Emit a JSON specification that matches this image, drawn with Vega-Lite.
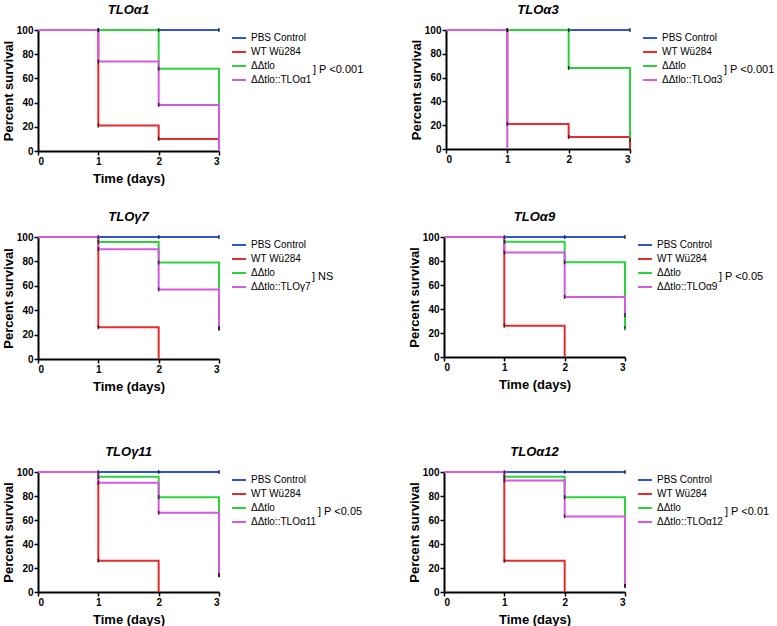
{
  "$schema": "https://vega.github.io/schema/vega-lite/v6.json",
  "padding": {"left": 2, "top": 4, "right": 0, "bottom": 0},
  "background": "white",
  "config": {
    "font": "Liberation Sans",
    "view": {"stroke": null},
    "axis": {"domainColor": "black", "domainWidth": 2, "tickColor": "black", "tickWidth": 1.5, "tickSize": 4, "labelFontWeight": "bold", "labelFontSize": 10, "labelColor": "black", "titleFontSize": 13, "titleFontWeight": "bold", "titleColor": "black", "grid": false, "labelPadding": 1, "labelOverlap": false},
    "axisX": {"tickCount": 4, "titlePadding": 6},
    "axisY": {"tickCount": 6, "titlePadding": 1},
    "title": {"fontSize": 13, "fontStyle": "italic", "fontWeight": "bold", "color": "black", "frame": "group", "offset": 8},
    "legend": {"orient": "right", "offset": 8, "padding": 0, "symbolType": "stroke", "symbolSize": 196, "symbolStrokeWidth": 2, "labelFontSize": 10, "labelColor": "black", "labelOffset": 4, "rowPadding": 1, "titleOrient": "right", "titleAnchor": "end", "titleFontSize": 11, "titleLineHeight": 10, "titleFontWeight": "normal", "titleColor": "black", "titlePadding": 2, "titleLimit": 200}
  },
  "datasets": {
    "km": [
      {"panel": "p1", "group": "PBS Control", "time": 0, "survival": 100},
      {"panel": "p1", "group": "PBS Control", "time": 1, "survival": 100},
      {"panel": "p1", "group": "PBS Control", "time": 2, "survival": 100},
      {"panel": "p1", "group": "PBS Control", "time": 3, "survival": 100},
      {"panel": "p1", "group": "WT Wü284", "time": 0, "survival": 100},
      {"panel": "p1", "group": "WT Wü284", "time": 1, "survival": 21},
      {"panel": "p1", "group": "WT Wü284", "time": 2, "survival": 10},
      {"panel": "p1", "group": "WT Wü284", "time": 3, "survival": 0},
      {"panel": "p1", "group": "ΔΔtlo", "time": 0, "survival": 100},
      {"panel": "p1", "group": "ΔΔtlo", "time": 1, "survival": 100},
      {"panel": "p1", "group": "ΔΔtlo", "time": 2, "survival": 68},
      {"panel": "p1", "group": "ΔΔtlo", "time": 3, "survival": 0},
      {"panel": "p1", "group": "ΔΔtlo::TLOα1", "time": 0, "survival": 100},
      {"panel": "p1", "group": "ΔΔtlo::TLOα1", "time": 1, "survival": 74},
      {"panel": "p1", "group": "ΔΔtlo::TLOα1", "time": 2, "survival": 38},
      {"panel": "p1", "group": "ΔΔtlo::TLOα1", "time": 3, "survival": 0},

      {"panel": "p2", "group": "PBS Control", "time": 0, "survival": 100},
      {"panel": "p2", "group": "PBS Control", "time": 1, "survival": 100},
      {"panel": "p2", "group": "PBS Control", "time": 2, "survival": 100},
      {"panel": "p2", "group": "PBS Control", "time": 3, "survival": 100},
      {"panel": "p2", "group": "WT Wü284", "time": 0, "survival": 100},
      {"panel": "p2", "group": "WT Wü284", "time": 1, "survival": 21},
      {"panel": "p2", "group": "WT Wü284", "time": 2, "survival": 10},
      {"panel": "p2", "group": "WT Wü284", "time": 3, "survival": 0},
      {"panel": "p2", "group": "ΔΔtlo", "time": 0, "survival": 100},
      {"panel": "p2", "group": "ΔΔtlo", "time": 1, "survival": 100},
      {"panel": "p2", "group": "ΔΔtlo", "time": 2, "survival": 68},
      {"panel": "p2", "group": "ΔΔtlo", "time": 3, "survival": 8},
      {"panel": "p2", "group": "ΔΔtlo::TLOα3", "time": 0, "survival": 100},
      {"panel": "p2", "group": "ΔΔtlo::TLOα3", "time": 1, "survival": 0},

      {"panel": "p3", "group": "PBS Control", "time": 0, "survival": 100},
      {"panel": "p3", "group": "PBS Control", "time": 1, "survival": 100},
      {"panel": "p3", "group": "PBS Control", "time": 2, "survival": 100},
      {"panel": "p3", "group": "PBS Control", "time": 3, "survival": 100},
      {"panel": "p3", "group": "WT Wü284", "time": 0, "survival": 100},
      {"panel": "p3", "group": "WT Wü284", "time": 1, "survival": 26},
      {"panel": "p3", "group": "WT Wü284", "time": 2, "survival": 0},
      {"panel": "p3", "group": "ΔΔtlo", "time": 0, "survival": 100},
      {"panel": "p3", "group": "ΔΔtlo", "time": 1, "survival": 96},
      {"panel": "p3", "group": "ΔΔtlo", "time": 2, "survival": 79},
      {"panel": "p3", "group": "ΔΔtlo", "time": 3, "survival": 25},
      {"panel": "p3", "group": "ΔΔtlo::TLOγ7", "time": 0, "survival": 100},
      {"panel": "p3", "group": "ΔΔtlo::TLOγ7", "time": 1, "survival": 90},
      {"panel": "p3", "group": "ΔΔtlo::TLOγ7", "time": 2, "survival": 57},
      {"panel": "p3", "group": "ΔΔtlo::TLOγ7", "time": 3, "survival": 25},

      {"panel": "p4", "group": "PBS Control", "time": 0, "survival": 100},
      {"panel": "p4", "group": "PBS Control", "time": 1, "survival": 100},
      {"panel": "p4", "group": "PBS Control", "time": 2, "survival": 100},
      {"panel": "p4", "group": "PBS Control", "time": 3, "survival": 100},
      {"panel": "p4", "group": "WT Wü284", "time": 0, "survival": 100},
      {"panel": "p4", "group": "WT Wü284", "time": 1, "survival": 26},
      {"panel": "p4", "group": "WT Wü284", "time": 2, "survival": 0},
      {"panel": "p4", "group": "ΔΔtlo", "time": 0, "survival": 100},
      {"panel": "p4", "group": "ΔΔtlo", "time": 1, "survival": 96},
      {"panel": "p4", "group": "ΔΔtlo", "time": 2, "survival": 79},
      {"panel": "p4", "group": "ΔΔtlo", "time": 3, "survival": 24},
      {"panel": "p4", "group": "ΔΔtlo::TLOα9", "time": 0, "survival": 100},
      {"panel": "p4", "group": "ΔΔtlo::TLOα9", "time": 1, "survival": 87},
      {"panel": "p4", "group": "ΔΔtlo::TLOα9", "time": 2, "survival": 50},
      {"panel": "p4", "group": "ΔΔtlo::TLOα9", "time": 3, "survival": 35},

      {"panel": "p5", "group": "PBS Control", "time": 0, "survival": 100},
      {"panel": "p5", "group": "PBS Control", "time": 1, "survival": 100},
      {"panel": "p5", "group": "PBS Control", "time": 2, "survival": 100},
      {"panel": "p5", "group": "PBS Control", "time": 3, "survival": 100},
      {"panel": "p5", "group": "WT Wü284", "time": 0, "survival": 100},
      {"panel": "p5", "group": "WT Wü284", "time": 1, "survival": 26},
      {"panel": "p5", "group": "WT Wü284", "time": 2, "survival": 0},
      {"panel": "p5", "group": "ΔΔtlo", "time": 0, "survival": 100},
      {"panel": "p5", "group": "ΔΔtlo", "time": 1, "survival": 96},
      {"panel": "p5", "group": "ΔΔtlo", "time": 2, "survival": 79},
      {"panel": "p5", "group": "ΔΔtlo", "time": 3, "survival": 14},
      {"panel": "p5", "group": "ΔΔtlo::TLOα11", "time": 0, "survival": 100},
      {"panel": "p5", "group": "ΔΔtlo::TLOα11", "time": 1, "survival": 91},
      {"panel": "p5", "group": "ΔΔtlo::TLOα11", "time": 2, "survival": 66},
      {"panel": "p5", "group": "ΔΔtlo::TLOα11", "time": 3, "survival": 14},

      {"panel": "p6", "group": "PBS Control", "time": 0, "survival": 100},
      {"panel": "p6", "group": "PBS Control", "time": 1, "survival": 100},
      {"panel": "p6", "group": "PBS Control", "time": 2, "survival": 100},
      {"panel": "p6", "group": "PBS Control", "time": 3, "survival": 100},
      {"panel": "p6", "group": "WT Wü284", "time": 0, "survival": 100},
      {"panel": "p6", "group": "WT Wü284", "time": 1, "survival": 26},
      {"panel": "p6", "group": "WT Wü284", "time": 2, "survival": 0},
      {"panel": "p6", "group": "ΔΔtlo", "time": 0, "survival": 100},
      {"panel": "p6", "group": "ΔΔtlo", "time": 1, "survival": 96},
      {"panel": "p6", "group": "ΔΔtlo", "time": 2, "survival": 79},
      {"panel": "p6", "group": "ΔΔtlo", "time": 3, "survival": 5},
      {"panel": "p6", "group": "ΔΔtlo::TLOα12", "time": 0, "survival": 100},
      {"panel": "p6", "group": "ΔΔtlo::TLOα12", "time": 1, "survival": 93},
      {"panel": "p6", "group": "ΔΔtlo::TLOα12", "time": 2, "survival": 63},
      {"panel": "p6", "group": "ΔΔtlo::TLOα12", "time": 3, "survival": 5}
    ]
  },
  "spacing": 53,
  "resolve": {"scale": {"color": "independent"}, "legend": {"color": "independent"}},
  "vconcat": [
    {
      "spacing": 26,
      "resolve": {"scale": {"color": "independent"}, "legend": {"color": "independent"}},
      "vconcat": [
        {
          "spacing": 46,
          "resolve": {"scale": {"color": "independent"}, "legend": {"color": "independent"}},
          "hconcat": [
            {
              "title": "TLOα1", "width": 181, "height": 121,
              "data": {"name": "km"},
              "transform": [{"filter": "datum.panel === 'p1'"}],
              "layer": [
                {"mark": {"type": "line", "interpolate": "step-after", "strokeWidth": 2},
                 "encoding": {
                   "x": {"field": "time", "type": "quantitative", "scale": {"domain": [0, 3]}, "axis": {"values": [0, 1, 2, 3], "title": "Time (days)", "format": "d"}},
                   "y": {"field": "survival", "type": "quantitative", "scale": {"domain": [0, 100]}, "axis": {"values": [0, 20, 40, 60, 80, 100], "title": "Percent survival"}},
                   "color": {"field": "group", "type": "nominal", "scale": {"domain": ["PBS Control", "WT Wü284", "ΔΔtlo", "ΔΔtlo::TLOα1"], "range": ["#2f55e0", "#e52b2b", "#2fd13a", "#d45ae0"]}, "legend": {"title": ["] P <0.001", ""]}}
                 }},
                {"transform": [{"filter": "datum.time > 0 && datum.survival > 0"}],
                 "mark": {"type": "tick", "orient": "vertical", "size": 4, "thickness": 1.5, "color": "black"},
                 "encoding": {"x": {"field": "time", "type": "quantitative"}, "y": {"field": "survival", "type": "quantitative"}}}
              ]
            },
            {
              "title": "TLOα3", "width": 184, "height": 119,
              "data": {"name": "km"},
              "transform": [{"filter": "datum.panel === 'p2'"}],
              "layer": [
                {"mark": {"type": "line", "interpolate": "step-after", "strokeWidth": 2},
                 "encoding": {
                   "x": {"field": "time", "type": "quantitative", "scale": {"domain": [0, 3]}, "axis": {"values": [0, 1, 2, 3], "title": null, "format": "d"}},
                   "y": {"field": "survival", "type": "quantitative", "scale": {"domain": [0, 100]}, "axis": {"values": [0, 20, 40, 60, 80, 100], "title": "Percent survival"}},
                   "color": {"field": "group", "type": "nominal", "scale": {"domain": ["PBS Control", "WT Wü284", "ΔΔtlo", "ΔΔtlo::TLOα3"], "range": ["#2f55e0", "#e52b2b", "#2fd13a", "#d45ae0"]}, "legend": {"title": ["] P <0.001", ""]}}
                 }},
                {"transform": [{"filter": "datum.time > 0 && datum.survival > 0"}],
                 "mark": {"type": "tick", "orient": "vertical", "size": 4, "thickness": 1.5, "color": "black"},
                 "encoding": {"x": {"field": "time", "type": "quantitative"}, "y": {"field": "survival", "type": "quantitative"}}}
              ]
            }
          ]
        },
        {
          "spacing": 74,
          "resolve": {"scale": {"color": "independent"}, "legend": {"color": "independent"}},
          "hconcat": [
            {
              "title": "TLOγ7", "width": 181, "height": 122,
              "data": {"name": "km"},
              "transform": [{"filter": "datum.panel === 'p3'"}],
              "layer": [
                {"mark": {"type": "line", "interpolate": "step-after", "strokeWidth": 2},
                 "encoding": {
                   "x": {"field": "time", "type": "quantitative", "scale": {"domain": [0, 3]}, "axis": {"values": [0, 1, 2, 3], "title": "Time (days)", "format": "d"}},
                   "y": {"field": "survival", "type": "quantitative", "scale": {"domain": [0, 100]}, "axis": {"values": [0, 20, 40, 60, 80, 100], "title": "Percent survival"}},
                   "color": {"field": "group", "type": "nominal", "scale": {"domain": ["PBS Control", "WT Wü284", "ΔΔtlo", "ΔΔtlo::TLOγ7"], "range": ["#2f55e0", "#e52b2b", "#2fd13a", "#d45ae0"]}, "legend": {"title": ["] NS", ""]}}
                 }},
                {"transform": [{"filter": "datum.time > 0 && datum.survival > 0"}],
                 "mark": {"type": "tick", "orient": "vertical", "size": 4, "thickness": 1.5, "color": "black"},
                 "encoding": {"x": {"field": "time", "type": "quantitative"}, "y": {"field": "survival", "type": "quantitative"}}}
              ]
            },
            {
              "title": "TLOα9", "width": 181, "height": 120,
              "data": {"name": "km"},
              "transform": [{"filter": "datum.panel === 'p4'"}],
              "layer": [
                {"mark": {"type": "line", "interpolate": "step-after", "strokeWidth": 2},
                 "encoding": {
                   "x": {"field": "time", "type": "quantitative", "scale": {"domain": [0, 3]}, "axis": {"values": [0, 1, 2, 3], "title": "Time (days)", "format": "d"}},
                   "y": {"field": "survival", "type": "quantitative", "scale": {"domain": [0, 100]}, "axis": {"values": [0, 20, 40, 60, 80, 100], "title": "Percent survival"}},
                   "color": {"field": "group", "type": "nominal", "scale": {"domain": ["PBS Control", "WT Wü284", "ΔΔtlo", "ΔΔtlo::TLOα9"], "range": ["#2f55e0", "#e52b2b", "#2fd13a", "#d45ae0"]}, "legend": {"title": ["] P <0.05", ""]}}
                 }},
                {"transform": [{"filter": "datum.time > 0 && datum.survival > 0"}],
                 "mark": {"type": "tick", "orient": "vertical", "size": 4, "thickness": 1.5, "color": "black"},
                 "encoding": {"x": {"field": "time", "type": "quantitative"}, "y": {"field": "survival", "type": "quantitative"}}}
              ]
            }
          ]
        }
      ]
    },
    {
      "spacing": 45,
      "resolve": {"scale": {"color": "independent"}, "legend": {"color": "independent"}},
      "hconcat": [
        {
          "title": "TLOγ11", "width": 181, "height": 120,
          "data": {"name": "km"},
          "transform": [{"filter": "datum.panel === 'p5'"}],
          "layer": [
            {"mark": {"type": "line", "interpolate": "step-after", "strokeWidth": 2},
             "encoding": {
               "x": {"field": "time", "type": "quantitative", "scale": {"domain": [0, 3]}, "axis": {"values": [0, 1, 2, 3], "title": "Time (days)", "format": "d"}},
               "y": {"field": "survival", "type": "quantitative", "scale": {"domain": [0, 100]}, "axis": {"values": [0, 20, 40, 60, 80, 100], "title": "Percent survival"}},
               "color": {"field": "group", "type": "nominal", "scale": {"domain": ["PBS Control", "WT Wü284", "ΔΔtlo", "ΔΔtlo::TLOα11"], "range": ["#2f55e0", "#e52b2b", "#2fd13a", "#d45ae0"]}, "legend": {"title": ["] P <0.05", ""]}}
             }},
            {"transform": [{"filter": "datum.time > 0 && datum.survival > 0"}],
             "mark": {"type": "tick", "orient": "vertical", "size": 4, "thickness": 1.5, "color": "black"},
             "encoding": {"x": {"field": "time", "type": "quantitative"}, "y": {"field": "survival", "type": "quantitative"}}}
          ]
        },
        {
          "title": "TLOα12", "width": 181, "height": 120,
          "data": {"name": "km"},
          "transform": [{"filter": "datum.panel === 'p6'"}],
          "layer": [
            {"mark": {"type": "line", "interpolate": "step-after", "strokeWidth": 2},
             "encoding": {
               "x": {"field": "time", "type": "quantitative", "scale": {"domain": [0, 3]}, "axis": {"values": [0, 1, 2, 3], "title": "Time (days)", "format": "d"}},
               "y": {"field": "survival", "type": "quantitative", "scale": {"domain": [0, 100]}, "axis": {"values": [0, 20, 40, 60, 80, 100], "title": "Percent survival"}},
               "color": {"field": "group", "type": "nominal", "scale": {"domain": ["PBS Control", "WT Wü284", "ΔΔtlo", "ΔΔtlo::TLOα12"], "range": ["#2f55e0", "#e52b2b", "#2fd13a", "#d45ae0"]}, "legend": {"title": ["] P <0.01", ""]}}
             }},
            {"transform": [{"filter": "datum.time > 0 && datum.survival > 0"}],
             "mark": {"type": "tick", "orient": "vertical", "size": 4, "thickness": 1.5, "color": "black"},
             "encoding": {"x": {"field": "time", "type": "quantitative"}, "y": {"field": "survival", "type": "quantitative"}}}
          ]
        }
      ]
    }
  ]
}
